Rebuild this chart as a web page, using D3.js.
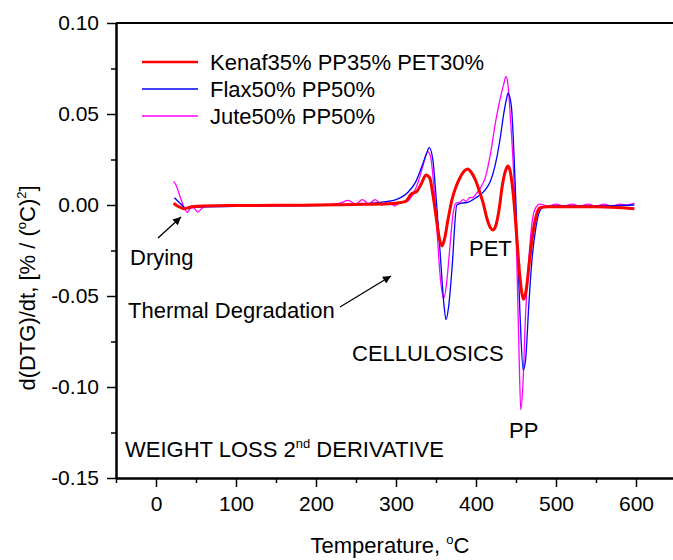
<!DOCTYPE html>
<html lang="en">
<head>
  <meta charset="UTF-8">
  <title>Weight loss 2nd derivative</title>
  <script src="https://d3js.org/d3.v7.min.js"></script>
  <style>
    body { margin:0; background:#fff; }
    svg { display:block; font-family: "Liberation Sans", Arial, sans-serif; }
  </style>
</head>
<body>
  <svg width="673" height="560"></svg>
  <script>
    // temperatures (°C) and d(DTG)/dt values
    const kenafT = [22, 28, 35, 45, 60, 100, 150, 200, 250, 280, 300, 312, 319, 326, 332, 337.5, 342, 346, 350, 354, 357.5, 361, 365, 370, 375, 380, 385, 389.5, 394, 399, 404, 409, 414, 418, 421.5, 425, 429, 433, 437, 440, 443, 447, 451, 455, 459.5, 463, 467, 471, 475, 480, 490, 550, 598]
    const kenafV = [0.001, -0.0008, -0.002, -0.001, -0.0005, -0.0003, -0.0002, 0, 0.0003, 0.0005, 0.001, 0.002, 0.006, 0.0075, 0.012, 0.0165, 0.015, 0.006, -0.006, -0.018, -0.0225, -0.018, -0.008, 0.003, 0.010, 0.015, 0.0185, 0.0198, 0.018, 0.014, 0.008, 0.001, -0.008, -0.0125, -0.0137, -0.011, -0.002, 0.011, 0.019, 0.0214, 0.018, 0.004, -0.018, -0.040, -0.0518, -0.046, -0.030, -0.016, -0.0064, -0.0015, -0.001, -0.001, -0.002]

    const flaxT = [23, 30, 38, 45, 60, 100, 150, 200, 250, 280, 300, 315, 325, 333, 338, 341.6, 346, 350, 355, 360, 362.5, 366, 370, 376, 382, 390, 400, 410, 418, 425, 430, 435, 438, 440, 444, 450, 455, 459, 462, 466, 470, 475, 480, 485, 500, 550, 598]
    const flaxV = [0.004, 0.001, -0.002, -0.0015, -0.001, -0.0008, -0.0005, -0.0003, 0.0005, 0.0015, 0.003, 0.007, 0.013, 0.022, 0.028, 0.0315, 0.025, 0.005, -0.025, -0.055, -0.063, -0.055, -0.035, 0.000, 0.001, 0.0015, 0.004, 0.0075, 0.013, 0.024, 0.036, 0.051, 0.058, 0.0614, 0.055, 0.000, -0.060, -0.0907, -0.085, -0.055, -0.030, -0.012, -0.003, -0.001, -0.0005, -0.0005, 0]

    const juteT = [22, 25, 29, 33, 39, 45, 52, 60, 75, 100, 150, 200, 230, 240, 250, 258, 266, 274, 282, 290, 298, 306, 314, 320, 328, 334, 339.5, 343, 347, 351, 355, 359.5, 363, 367, 371, 375, 380, 384, 388, 392, 396, 400, 405, 412, 418, 425, 431, 435, 437.5, 440, 443, 447, 451, 454, 456, 458.5, 462, 466, 470, 474, 480, 490, 500, 510, 520, 530, 540, 550, 560, 570, 580, 590, 598]
    const juteV = [0.013, 0.011, 0.006, 0.001, -0.004, -0.0005, -0.0038, -0.001, -0.0005, -0.0005, -0.0003, 0, 0.001, 0.0025, 0.0005, 0.003, 0.0005, 0.003, 0, 0.002, -0.0005, 0.0015, 0.002, 0.005, 0.013, 0.022, 0.0293, 0.027, 0.012, -0.012, -0.038, -0.0513, -0.044, -0.025, -0.006, 0.001, 0.0015, 0.003, 0.002, 0.004, 0.004, 0.006, 0.009, 0.0156, 0.028, 0.047, 0.060, 0.067, 0.0705, 0.066, 0.048, 0.018, -0.030, -0.085, -0.1126, -0.100, -0.060, -0.030, -0.010, -0.002, 0.0005, -0.0005, 0.0005, -0.0005, 0.0005, -0.0005, 0.0005, -0.0005, 0.0005, -0.0005, 0.0005, 0, 0.001]

    const seriesNames = ['Kenaf35% PP35% PET30%', 'Flax50% PP50%', 'Jute50% PP50%']
    const seriesColors = ['#ff0000', '#0000ff', '#ff00ff']
    const seriesWidths = [3, 1.3, 1.3]

    const xTicks = [0, 100, 200, 300, 400, 500, 600]
    const yTicks = [0.10, 0.05, 0.00, -0.05, -0.10, -0.15]

    const svg = d3.select('svg')
    const plot = {left: 116, right: 676, top: 23, bottom: 478}
    const fs = 22

    const x = d3.scaleLinear().domain([-50, 650]).range([plot.left, plot.right])
    const y = d3.scaleLinear().domain([-0.15, 0.10]).range([plot.bottom, plot.top])

    const series = [
      kenafT.map((t, i) => [t, kenafV[i]]),
      flaxT.map((t, i) => [t, flaxV[i]]),
      juteT.map((t, i) => [t, juteV[i]])
    ]

    // axes
    const xMinor = d3.range(-50, 651, 50).filter(v => v % 100 !== 0)
    const yMinor = [0.075, 0.025, -0.025, -0.075, -0.125]

    const styleAxis = g => {
      g.selectAll('.domain').attr('stroke-width', 2)
      g.selectAll('.tick line').attr('stroke-width', 1.5)
      g.selectAll('text').attr('font-size', 21).attr('font-family', '"Liberation Sans", Arial, sans-serif').attr('fill', '#000')
    }

    svg.append('g')
      .attr('transform', 'translate(0,' + plot.bottom + ')')
      .call(d3.axisBottom(x).tickValues(xMinor).tickSize(5).tickSizeOuter(0).tickFormat(''))
      .call(styleAxis)
    svg.append('g')
      .attr('transform', 'translate(0,' + plot.bottom + ')')
      .call(d3.axisBottom(x).tickValues(xTicks).tickSize(9).tickPadding(9).tickSizeOuter(0).tickFormat(d3.format('d')))
      .call(styleAxis)

    svg.append('g')
      .attr('transform', 'translate(' + plot.left + ',0)')
      .call(d3.axisLeft(y).tickValues(yMinor).tickSize(5).tickSizeOuter(0).tickFormat(''))
      .call(styleAxis)
    svg.append('g')
      .attr('transform', 'translate(' + plot.left + ',0)')
      .call(d3.axisLeft(y).tickValues(yTicks).tickSize(9).tickPadding(8).tickSizeOuter(0))
      .call(styleAxis)
      .selectAll('text').text(d => d3.format('.2f')(d).replace('\u2212', '-'))

    // top frame line
    svg.append('line')
      .attr('x1', plot.left).attr('x2', plot.right).attr('y1', plot.top).attr('y2', plot.top)
      .attr('stroke', '#000').attr('stroke-width', 2)

    // curves
    const line = d3.line()
      .x(d => x(d[0]))
      .y(d => y(d[1]))
      .curve(d3.curveMonotoneX)

    // draw magenta and blue first, red on top
    ;[2, 1, 0].forEach(i => {
      svg.append('path')
        .datum(series[i])
        .attr('d', line)
        .attr('fill', 'none')
        .attr('stroke', seriesColors[i])
        .attr('stroke-width', seriesWidths[i])
        .attr('stroke-linejoin', 'round')
    })

    // legend
    const legend = svg.append('g').attr('font-size', fs)
    seriesNames.forEach((name, i) => {
      const ly = 62 + i * 27
      legend.append('line')
        .attr('x1', 142).attr('x2', 198).attr('y1', ly).attr('y2', ly)
        .attr('stroke', seriesColors[i]).attr('stroke-width', seriesWidths[i] === 3 ? 2.5 : 1.5)
      legend.append('text')
        .attr('x', 210).attr('y', ly + 8)
        .text(name)
    })

    // annotations
    const labels = svg.append('g').attr('font-size', fs).attr('fill', '#000')
    labels.append('text').attr('x', 130).attr('y', 265).text('Drying')
    labels.append('text').attr('x', 128).attr('y', 318).text('Thermal Degradation')
    labels.append('text').attr('x', 352).attr('y', 361).text('CELLULOSICS')
    labels.append('text').attr('x', 469).attr('y', 256).text('PET')
    labels.append('text').attr('x', 509).attr('y', 438).text('PP')

    const weight = labels.append('text').attr('x', 125).attr('y', 457)
    weight.append('tspan').text('WEIGHT LOSS 2')
    weight.append('tspan').attr('font-size', 13).attr('dy', -9).text('nd')
    weight.append('tspan').attr('dy', 9).text(' DERIVATIVE')

    // arrows
    svg.append('defs').append('marker')
      .attr('id', 'arrow')
      .attr('viewBox', '0 0 10 10')
      .attr('refX', 10).attr('refY', 5)
      .attr('markerWidth', 10).attr('markerHeight', 8)
      .attr('markerUnits', 'userSpaceOnUse')
      .attr('orient', 'auto')
      .append('path').attr('d', 'M0,0 L10,5 L0,10 z').attr('fill', '#000')

    const arrows = [[158, 238, 181, 217], [340, 307, 391, 276]]
    arrows.forEach(a => {
      svg.append('line')
        .attr('x1', a[0]).attr('y1', a[1]).attr('x2', a[2]).attr('y2', a[3])
        .attr('stroke', '#000').attr('stroke-width', 1.3)
        .attr('marker-end', 'url(#arrow)')
    })

    // axis titles
    const xt = svg.append('text')
      .attr('x', 390).attr('y', 553)
      .attr('text-anchor', 'middle')
      .attr('font-size', fs)
    xt.append('tspan').text('Temperature, ')
    xt.append('tspan').attr('font-size', 13).attr('dy', -9).text('o')
    xt.append('tspan').attr('dy', 9).text('C')

    const yt = svg.append('text')
      .attr('transform', 'translate(35,288) rotate(-90)')
      .attr('text-anchor', 'middle')
      .attr('font-size', fs)
    yt.append('tspan').text('d(DTG)/dt, [% / (')
    yt.append('tspan').attr('font-size', 13).attr('dy', -9).text('o')
    yt.append('tspan').attr('dy', 9).text('C)')
    yt.append('tspan').attr('font-size', 13).attr('dy', -9).text('2')
    yt.append('tspan').attr('dy', 9).text(']')
  </script>
</body>
</html>
